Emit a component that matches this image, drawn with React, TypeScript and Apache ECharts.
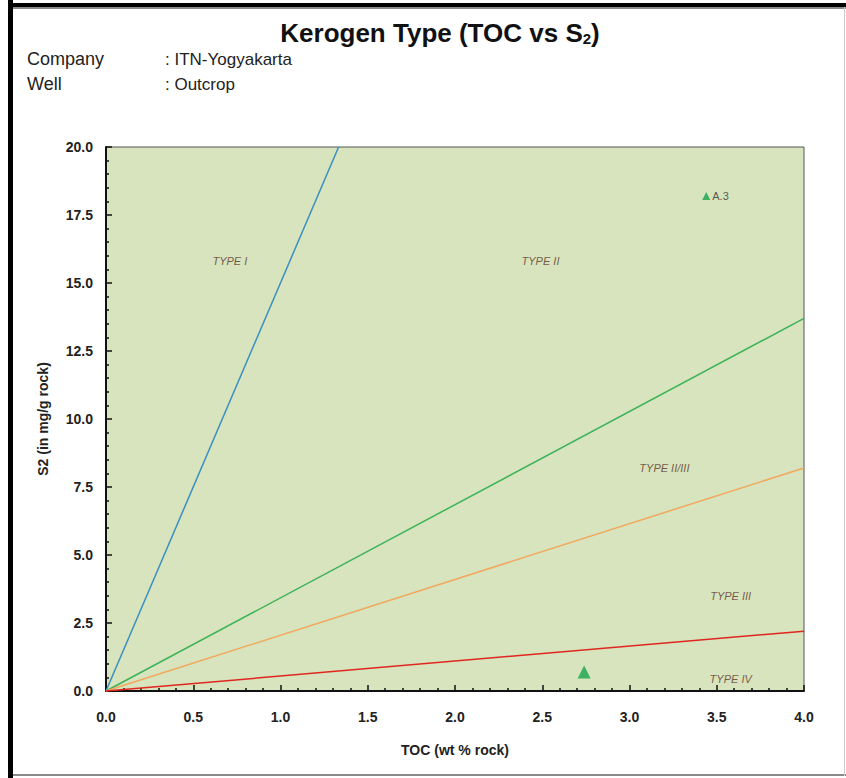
import React, { useEffect, useRef } from "react";
import * as echarts from "echarts";

// Boundary lines (TOC, S2) endpoints
const typeIBoundary: [number, number][] = [[0, 0], [1.333, 20]];
const typeIIBoundary: [number, number][] = [[0, 0], [4, 13.7]];
const typeIIIIBoundary: [number, number][] = [[0, 0], [4, 8.2]];
const typeIIIBoundary: [number, number][] = [[0, 0], [4, 2.2]];

// Samples
const sampleA3: [number, number][] = [[3.44, 18.2]];
const sampleOther: [number, number][] = [[2.74, 0.7]];

// Region labels
const regionNames = ["TYPE I", "TYPE II", "TYPE II/III", "TYPE III", "TYPE IV"];
const regionToc = [0.71, 2.49, 3.2, 3.58, 3.58];
const regionS2 = [15.8, 15.8, 8.2, 3.5, 0.45];

const xTicks = [0, 0.5, 1, 1.5, 2, 2.5, 3, 3.5, 4];
const yTicks = [0, 2.5, 5, 7.5, 10, 12.5, 15, 17.5, 20];

export default function App() {
  const ref = useRef<HTMLDivElement>(null);
  useEffect(() => {
    if (!ref.current) return;
    const chart = echarts.init(ref.current, null, { renderer: "svg" });
    const font = "Liberation Sans, Arial, sans-serif";
    const lineSeries = (data: [number, number][], color: string) => ({
      type: "line",
      data,
      showSymbol: false,
      symbol: "none",
      lineStyle: { color, width: 1.5 },
      silent: true,
      z: 3,
    });
    chart.setOption({
      animation: false,
      backgroundColor: "#ffffff",
      textStyle: { fontFamily: font },
      grid: {
        left: 106,
        right: 42,
        top: 147,
        bottom: 87,
        show: true,
        backgroundColor: "#d7e4bd",
        borderColor: "#555555",
        borderWidth: 1,
      },
      xAxis: {
        type: "value",
        min: xTicks[0],
        max: xTicks[xTicks.length - 1],
        interval: 0.5,
        name: "TOC (wt % rock)",
        nameLocation: "middle",
        nameGap: 52,
        nameTextStyle: { fontWeight: "bold", fontSize: 14, color: "#222", fontFamily: font },
        axisLine: { show: true, onZero: false, lineStyle: { color: "#111", width: 2 } },
        axisTick: { show: true, inside: true, length: 6, lineStyle: { color: "#111", width: 1.5 } },
        minorTick: { show: true, splitNumber: 5, length: 3, lineStyle: { color: "#111", width: 1.5 } },
        splitLine: { show: false },
        axisLabel: {
          margin: 19,
          fontWeight: "bold",
          fontSize: 14,
          color: "#222",
          fontFamily: font,
          formatter: (v: number) => v.toFixed(1),
        },
      },
      yAxis: {
        type: "value",
        min: yTicks[0],
        max: yTicks[yTicks.length - 1],
        interval: 2.5,
        name: "S2 (in mg/g rock)",
        nameLocation: "middle",
        nameGap: 56,
        nameRotate: 90,
        nameTextStyle: { fontWeight: "bold", fontSize: 14, color: "#222", fontFamily: font },
        axisLine: { show: true, onZero: false, lineStyle: { color: "#111", width: 2 } },
        axisTick: { show: true, inside: true, length: 6, lineStyle: { color: "#111", width: 1.5 } },
        minorTick: { show: true, splitNumber: 5, length: 3, lineStyle: { color: "#111", width: 1.5 } },
        splitLine: { show: false },
        axisLabel: {
          margin: 13,
          fontWeight: "bold",
          fontSize: 14,
          color: "#222",
          fontFamily: font,
          formatter: (v: number) => v.toFixed(1),
        },
      },
      series: [
        lineSeries(typeIBoundary, "#3b8fc2"),
        lineSeries(typeIIBoundary, "#3cb25a"),
        lineSeries(typeIIIIBoundary, "#f2a85e"),
        lineSeries(typeIIIBoundary, "#e0261e"),
        {
          type: "scatter",
          data: regionNames.map((n, i) => ({ name: n, value: [regionToc[i], regionS2[i]] })),
          symbolSize: 0,
          silent: true,
          label: {
            show: true,
            position: "inside",
            formatter: (p: any) => p.name,
            fontStyle: "italic",
            fontSize: 11,
            color: "#5e3428",
            fontFamily: font,
          },
          z: 4,
        },
        {
          type: "scatter",
          data: sampleA3.map((d) => ({ name: "A.3", value: d })),
          symbol: "triangle",
          symbolSize: 8,
          itemStyle: { color: "#18a34a" },
          label: {
            show: true,
            position: "right",
            distance: 2,
            formatter: (p: any) => p.name,
            fontSize: 11,
            color: "#333",
            fontFamily: font,
          },
          z: 5,
        },
        {
          type: "scatter",
          data: sampleOther,
          symbol: "triangle",
          symbolSize: 13,
          itemStyle: { color: "#18a34a" },
          z: 5,
        },
      ],
      graphic: [
        { type: "rect", shape: { x: 8, y: 0, width: 5, height: 778 }, style: { fill: "#000" } },
        { type: "rect", shape: { x: 8, y: 3, width: 838, height: 4 }, style: { fill: "#000" } },
        { type: "rect", shape: { x: 13, y: 7, width: 833, height: 2 }, style: { fill: "#8a8a8a" } },
        { type: "rect", shape: { x: 13, y: 774, width: 833, height: 2 }, style: { fill: "#8a8a8a" } },
        { type: "rect", shape: { x: 844, y: 7, width: 1, height: 769 }, style: { fill: "#cccccc" } },
        {
          type: "text",
          x: 440,
          y: 33,
          style: {
            text: "{a|Kerogen Type (TOC vs S}{b|2}{a|)}",
            align: "center",
            verticalAlign: "middle",
            rich: {
              a: { fontSize: 26, fontWeight: "bold", fill: "#111", fontFamily: font },
              b: { fontSize: 15, fontWeight: "bold", fill: "#111", fontFamily: font, padding: [11, 0, 0, 0] },
            },
          },
        },
        {
          type: "text",
          x: 27,
          y: 59,
          style: { text: "Company", fontSize: 18, fill: "#222", fontFamily: font, verticalAlign: "middle" },
        },
        {
          type: "text",
          x: 165,
          y: 59,
          style: { text: ": ITN-Yogyakarta", fontSize: 17, fill: "#222", fontFamily: font, verticalAlign: "middle" },
        },
        {
          type: "text",
          x: 27,
          y: 84,
          style: { text: "Well", fontSize: 18, fill: "#222", fontFamily: font, verticalAlign: "middle" },
        },
        {
          type: "text",
          x: 165,
          y: 84,
          style: { text: ": Outcrop", fontSize: 17, fill: "#222", fontFamily: font, verticalAlign: "middle" },
        },
      ],
    });
    return () => chart.dispose();
  }, []);
  return (
    <div
      ref={ref}
      style={{ position: "fixed", left: 0, top: 0, width: 846, height: 778 }}
    />
  );
}
